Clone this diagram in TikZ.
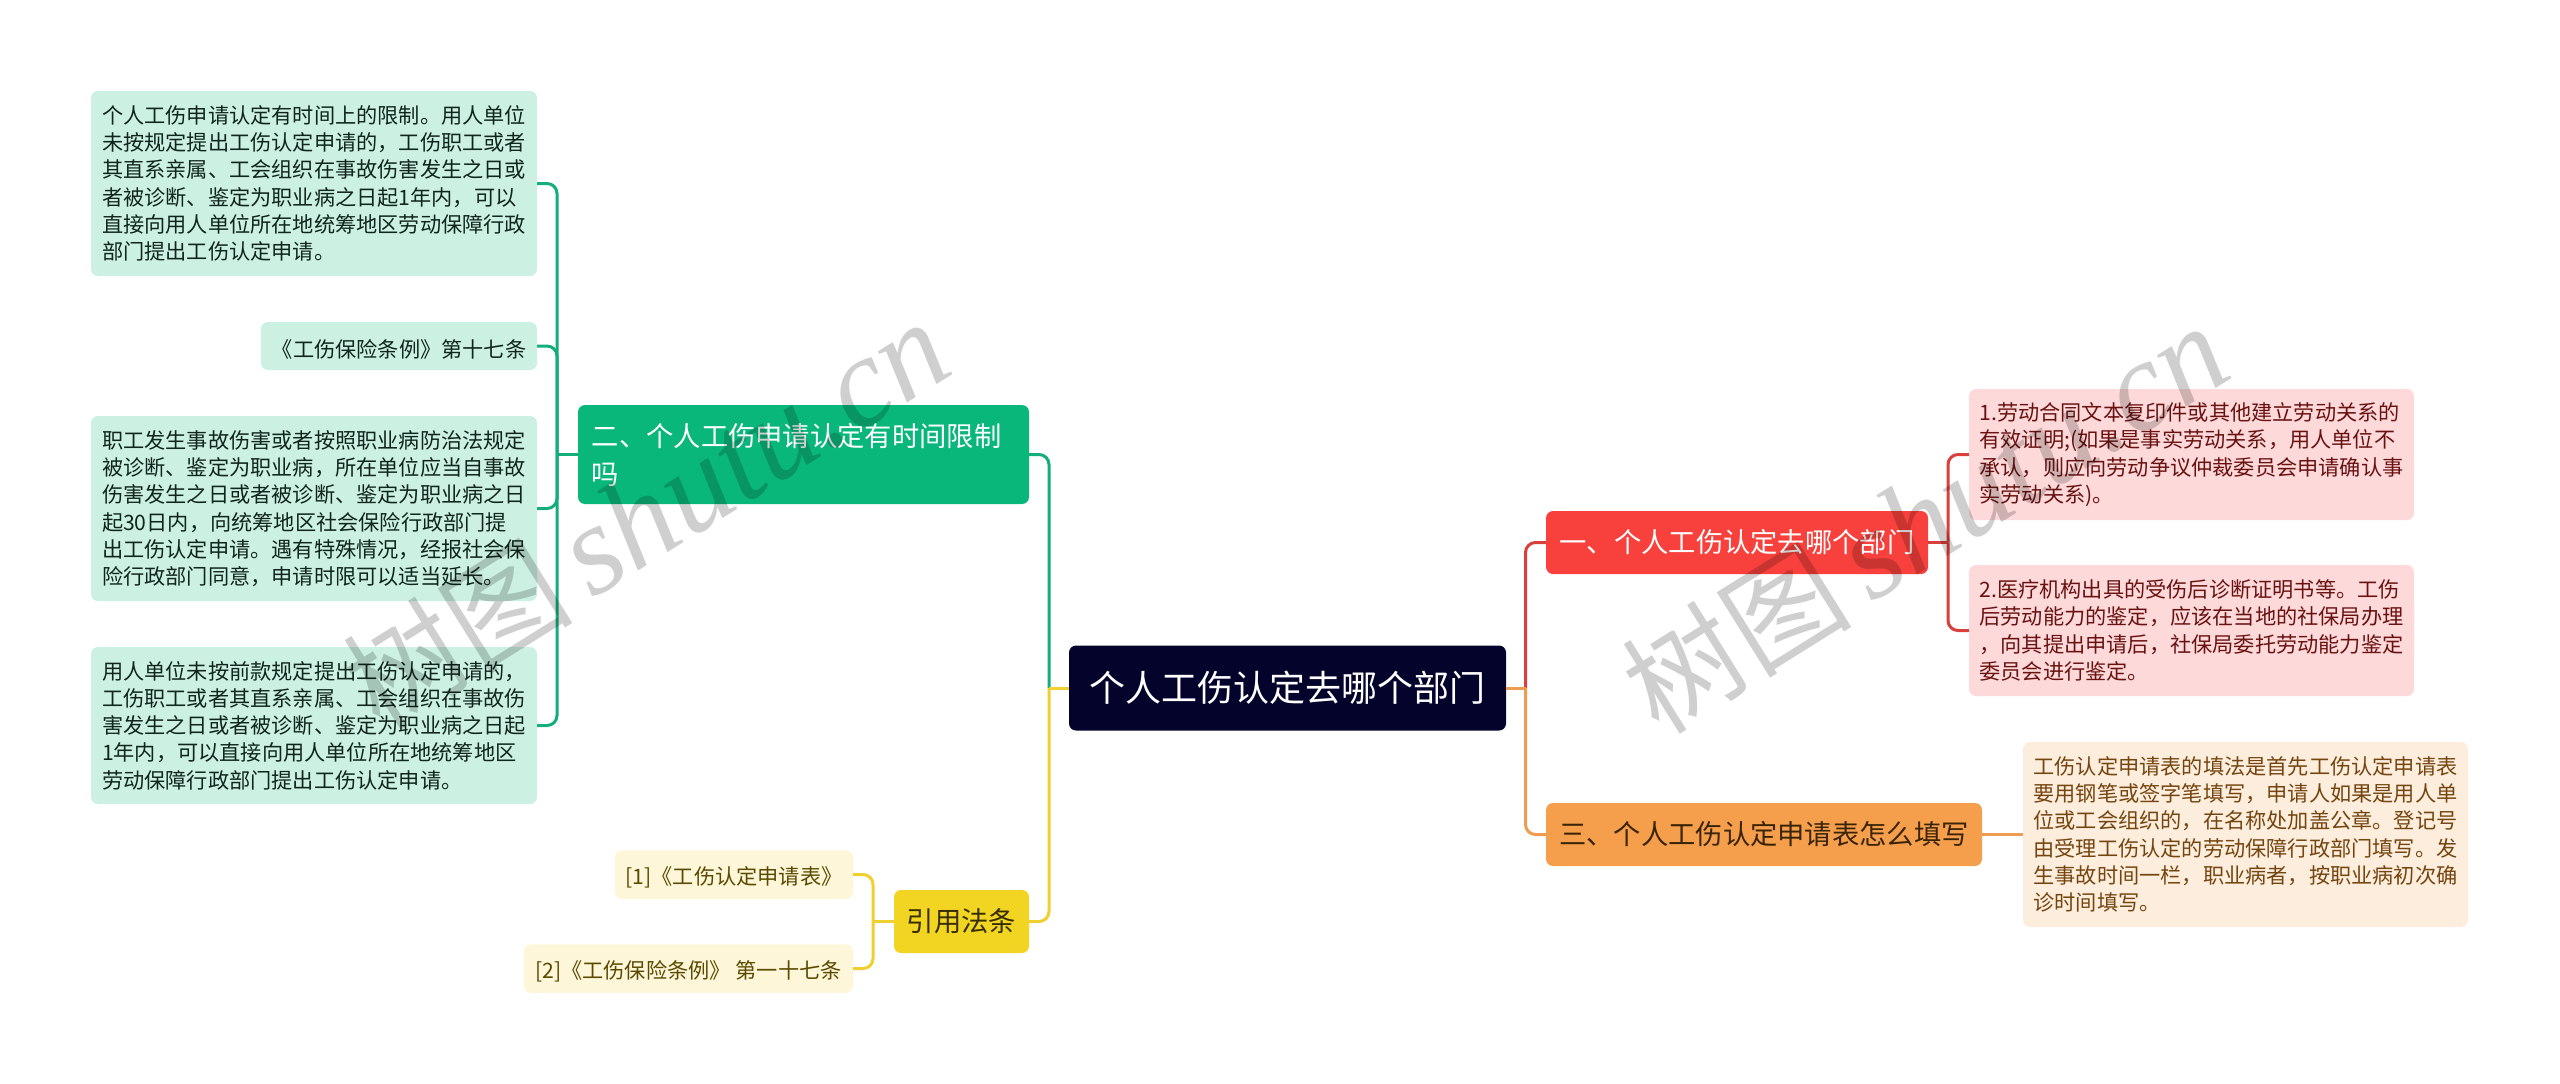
\documentclass[tikz,border=0pt]{standalone}
\usepackage{fontspec}
\setmainfont{Noto Sans CJK SC}
\newfontfamily\wmlat{Liberation Serif}
\newfontfamily\wmcjk{Noto Sans CJK SC}
\definecolor{cgreen}{HTML}{0AB77B}
\definecolor{cgreenl}{HTML}{CCF1E2}
\definecolor{cgreenln}{HTML}{14AE7D}
\definecolor{cred}{HTML}{F8413D}
\definecolor{credl}{HTML}{FDD9DA}
\definecolor{credln}{HTML}{D9403C}
\definecolor{corg}{HTML}{F59E4C}
\definecolor{corgl}{HTML}{FDEDDD}
\definecolor{corgln}{HTML}{EE9C50}
\definecolor{cyel}{HTML}{F2D422}
\definecolor{cyell}{HTML}{FDF6D8}
\definecolor{cyelln}{HTML}{F0D030}
\definecolor{croot}{HTML}{03032C}
\definecolor{tgreen}{HTML}{10251D}
\definecolor{tred}{HTML}{6A1212}
\definecolor{torg}{HTML}{74450F}
\definecolor{tyel}{HTML}{5A4A00}
\definecolor{tborg}{HTML}{3A2408}
\definecolor{tbyel}{HTML}{362D00}
\tikzset{
  x=1pt,y=-1pt,
  boxbase/.style={rectangle,rounded corners=7pt,inner sep=0pt,align=left,anchor=center},
  leaffont/.style={font=\fontsize{21.2}{27.3}\selectfont,execute at begin node={\rule{0pt}{24pt}}},
  leafg/.style={boxbase,leaffont,fill=cgreenl,text=tgreen},
  leafr/.style={boxbase,leaffont,fill=credl,text=tred},
  leafo/.style={boxbase,leaffont,fill=corgl,text=torg},
  leafy/.style={boxbase,leaffont,fill=cyell,text=tyel},
  bfont/.style={font=\fontsize{27.3}{38}\selectfont},
  branchg/.style={boxbase,bfont,fill=cgreen,text=white},
  branchr/.style={boxbase,bfont,fill=cred,text=white},
  brancho/.style={boxbase,bfont,fill=corg,text=tborg},
  branchy/.style={boxbase,bfont,fill=cyel,text=tbyel},
  rootbox/.style={boxbase,font=\fontsize{36}{44}\selectfont,fill=croot,text=white},
  size/.style 2 args={minimum width=#1pt,minimum height=#2pt},
  link/.style={line width=3pt,rounded corners=10pt},
  straightlink/.style={line width=3pt},
  watermark/.style={rotate=32,text=black,opacity=0.19,inner sep=0pt},
}
\newcommand{\wmtext}{{\fontsize{115}{115}\selectfont\wmcjk 树图}\hspace{20pt}{\fontsize{128}{128}\selectfont\wmlat\itshape shutu.cn}}
\begin{document}
\begin{tikzpicture}
\useasboundingbox (0,0) rectangle (2560,1084);
% root
\node[rootbox,size={437}{85}] (root) at (1287.5,688) {个人工伤认定去哪个部门};
% branches
\node[branchg,size={451}{99}] (b2) at (803.5,454.5) {二、个人工伤申请认定有时间限制\\吗\rule{396pt}{0pt}};
\node[branchy,size={135}{63}] (by) at (961.5,921.5) {引用法条};
\node[branchr,size={382}{63}] (b1) at (1737,542.5) {一、个人工伤认定去哪个部门};
\node[brancho,size={436}{63}] (b3) at (1764,834.5) {三、个人工伤认定申请表怎么填写};
% green leaves
\node[leafg,size={446}{185}] (g1) at (314,183.5) {个人工伤申请认定有时间上的限制。用人单位\\未按规定提出工伤认定申请的，工伤职工或者\\其直系亲属、工会组织在事故伤害发生之日或\\者被诊断、鉴定为职业病之日起1年内，可以\\直接向用人单位所在地统筹地区劳动保障行政\\部门提出工伤认定申请。};
\node[leafg,size={276}{48}] (g2) at (399,346) {《工伤保险条例》第十七条};
\node[leafg,size={446}{185}] (g3) at (314,508.5) {职工发生事故伤害或者按照职业病防治法规定\\被诊断、鉴定为职业病，所在单位应当自事故\\伤害发生之日或者被诊断、鉴定为职业病之日\\起30日内，向统筹地区社会保险行政部门提\\出工伤认定申请。遇有特殊情况，经报社会保\\险行政部门同意，申请时限可以适当延长。};
\node[leafg,size={446}{157}] (g4) at (314,725.5) {用人单位未按前款规定提出工伤认定申请的，\\工伤职工或者其直系亲属、工会组织在事故伤\\害发生之日或者被诊断、鉴定为职业病之日起\\1年内，可以直接向用人单位所在地统筹地区\\劳动保障行政部门提出工伤认定申请。};
% yellow leaves
\node[leafy,size={238}{48.5}] (y1) at (734,874.5) {[1]《工伤认定申请表》};
\node[leafy,size={329}{48.5}] (y2) at (688.5,968.5) {[2]《工伤保险条例》 第一十七条};
% red leaves
\node[leafr,size={445}{131}] (r1) at (2191.5,454.5) {1.劳动合同文本复印件或其他建立劳动关系的\\有效证明;(如果是事实劳动关系，用人单位不\\承认，则应向劳动争议仲裁委员会申请确认事\\实劳动关系)。};
\node[leafr,size={445}{131}] (r2) at (2191.5,630.5) {2.医疗机构出具的受伤后诊断证明书等。工伤\\后劳动能力的鉴定，应该在当地的社保局办理\\，向其提出申请后，社保局委托劳动能力鉴定\\委员会进行鉴定。};
% orange leaf
\node[leafo,size={445}{185}] (o1) at (2245.5,834.5) {工伤认定申请表的填法是首先工伤认定申请表\\要用钢笔或签字笔填写，申请人如果是用人单\\位或工会组织的，在名称处加盖公章。登记号\\由受理工伤认定的劳动保障行政部门填写。发\\生事故时间一栏，职业病者，按职业病初次确\\诊时间填写。};
% junction coordinates
\coordinate (jl) at (1049,688);
\coordinate (jr) at (1525.5,688);
\coordinate (jg) at (557,454.5);
\coordinate (jy) at (873,921.5);
\coordinate (jb1) at (1948,542.5);
% connectors
\draw[link,cgreenln] (b2.east) -| (jl);
\draw[link,cyelln] (by.east) -| (jl);
\draw[straightlink,cyelln] (root.west) -- (jl);
\draw[link,credln] (b1.west) -| (jr);
\draw[link,corgln] (b3.west) -| (jr);
\draw[straightlink,corgln] (root.east) -- (jr);
\draw[link,cgreenln] (g1.east) -| (jg);
\draw[link,cgreenln] (g2.east) -| (jg);
\draw[link,cgreenln] (g3.east) -| (jg);
\draw[link,cgreenln] (g4.east) -| (jg);
\draw[straightlink,cgreenln] (b2.west) -- (jg);
\draw[link,cyelln] (y1.east) -| (jy);
\draw[link,cyelln] (y2.east) -| (jy);
\draw[straightlink,cyelln] (by.west) -- (jy);
\draw[link,credln] (r1.west) -| (jb1);
\draw[link,credln] (r2.west) -| (jb1);
\draw[straightlink,credln] (b1.east) -- (jb1);
\draw[straightlink,corgln] (b3.east) -- (o1.west);
% watermarks
\node[watermark] (wm1) at (646,515) {\wmtext};
\node[watermark] (wm2) at (1925,519) {\wmtext};
\end{tikzpicture}
\end{document}
